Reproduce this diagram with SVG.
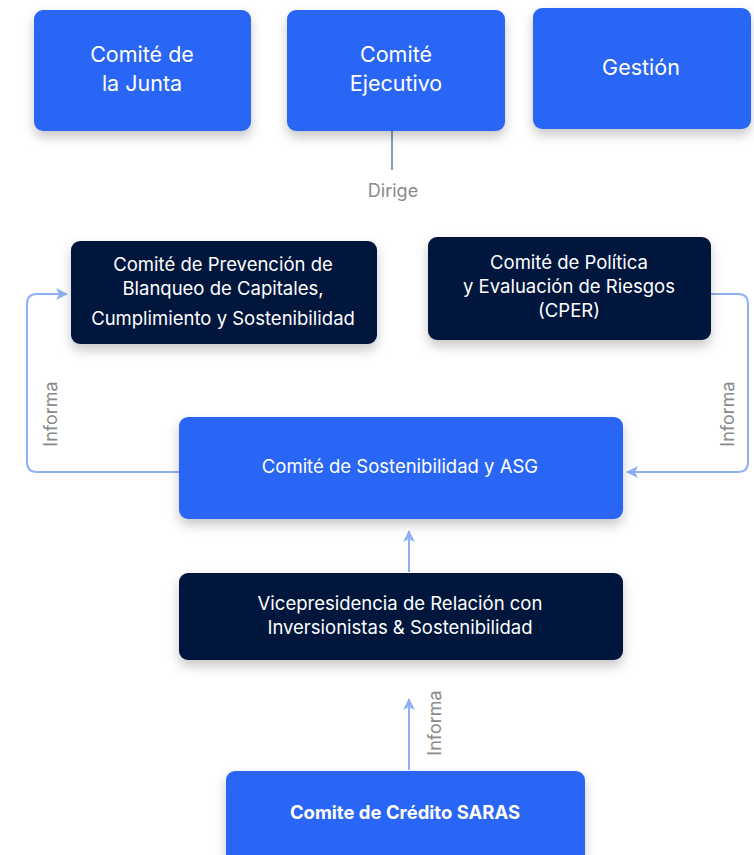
<svg xmlns="http://www.w3.org/2000/svg" width="754" height="855" viewBox="0 0 754 855">
<defs>
<filter id="sh" x="-20%" y="-20%" width="140%" height="150%">
<feDropShadow dx="0" dy="6" stdDeviation="6" flood-color="#000" flood-opacity="0.22"/>
</filter>
<marker id="ah" viewBox="0 0 12 12" refX="11" refY="6" markerWidth="12" markerHeight="12" markerUnits="userSpaceOnUse" orient="auto">
<path d="M0,0 L12,6 L0,12 L3,6 Z" fill="#8FB0F7"/>
</marker>
<style>
.blue{fill:#2B66F5;filter:url(#sh)}
.navy{fill:#06153D;filter:url(#sh)}
.t{font-family:Inter,"Noto Sans",sans-serif;fill:#fff;text-anchor:middle}
.big{font-size:21.5px}
.med{font-size:18.5px}
.lbl{font-family:Inter,"Noto Sans",sans-serif;fill:#8A8A8A;font-size:18px;text-anchor:middle}
.con{fill:none;stroke:#8FB0F7;stroke-width:2}
</style>
</defs>
<g id="connectors">
<line x1="392" y1="131" x2="392" y2="170" stroke="#8A9BB5" stroke-width="2"/>
<path class="con" d="M179,472 H37 Q27,472 27,462 V304 Q27,294 37,294 H67" marker-end="url(#ah)"/>
<path class="con" d="M711,294 H738 Q748,294 748,304 V462 Q748,472 738,472 H627" marker-end="url(#ah)"/>
<line class="con" x1="409" y1="572" x2="409" y2="531" marker-end="url(#ah)"/>
<line class="con" x1="409" y1="770" x2="409" y2="699" marker-end="url(#ah)"/>
<text class="lbl" x="393" y="197">Dirige</text>
<text class="lbl" transform="translate(57,414) rotate(-90)">Informa</text>
<text class="lbl" transform="translate(734,414) rotate(-90)">Informa</text>
<text class="lbl" transform="translate(441,723) rotate(-90)">Informa</text>
</g>
<g id="n-junta">
<rect class="blue" x="34" y="10" width="217" height="121" rx="9"/>
<text class="t big" x="142" y="62">Comité de</text>
<text class="t big" x="142" y="91">la Junta</text>
</g>
<g id="n-ejecutivo">
<rect class="blue" x="287" y="10" width="218" height="121" rx="9"/>
<text class="t big" x="396" y="62">Comité</text>
<text class="t big" x="396" y="91">Ejecutivo</text>
</g>
<g id="n-gestion">
<rect class="blue" x="533" y="8" width="218" height="121" rx="9"/>
<text class="t big" x="641" y="75">Gestión</text>
</g>
<g id="n-pbc">
<rect class="navy" x="71" y="241" width="306" height="103" rx="9"/>
<text class="t med" x="223" y="271">Comité de Prevención de</text>
<text class="t med" x="223" y="295">Blanqueo de Capitales,</text>
<text class="t med" x="223" y="325">Cumplimiento y Sostenibilidad</text>
</g>
<g id="n-cper">
<rect class="navy" x="428" y="237" width="283" height="103" rx="9"/>
<text class="t med" x="569" y="269">Comité de Política</text>
<text class="t med" x="569" y="293">y Evaluación de Riesgos</text>
<text class="t med" x="569" y="317">(CPER)</text>
</g>
<g id="n-asg">
<rect class="blue" x="179" y="417" width="444" height="102" rx="9"/>
<text class="t med" x="400" y="473">Comité de Sostenibilidad y ASG</text>
</g>
<g id="n-vp">
<rect class="navy" x="179" y="573" width="444" height="87" rx="9"/>
<text class="t med" x="400" y="610">Vicepresidencia de Relación con</text>
<text class="t med" x="400" y="634">Inversionistas &amp; Sostenibilidad</text>
</g>
<g id="n-saras">
<rect class="blue" x="226" y="771" width="359" height="100" rx="9"/>
<text class="t med" x="405" y="819" font-weight="bold">Comite de Crédito SARAS</text>
</g>
</svg>
